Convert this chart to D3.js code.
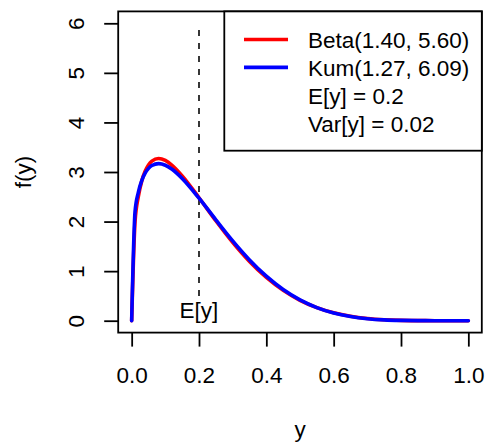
<!DOCTYPE html>
<html>
<head>
<meta charset="utf-8">
<script src="https://cdn.jsdelivr.net/npm/d3@7"></script>
<style>
  html, body { margin: 0; padding: 0; background: #ffffff; }
  svg { display: block; font-family: "Liberation Sans", Arial, Helvetica, sans-serif; }
</style>
</head>
<body>
<svg id="chart" width="489" height="443"></svg>
<script>
// Evaluation points on y and the two densities at those points
const yGrid = [0, 0.01, 0.02, 0.03, 0.04, 0.05, 0.06, 0.08, 0.10, 0.12, 0.15, 0.20, 0.25,
  0.30, 0.35, 0.40, 0.45, 0.50, 0.55, 0.60, 0.65, 0.70, 0.75, 0.80, 0.85, 0.90, 0.95, 1.00];
const betaDensity = [0, 1.995, 2.512, 2.819, 3.015, 3.142, 3.219, 3.271, 3.233, 3.136, 2.923,
  2.481, 2.016, 1.579, 1.194, 0.872, 0.612, 0.412, 0.264, 0.159, 0.089, 0.045, 0.020, 0.007,
  0.002, 0.0003, 0.0000, 0];
const kumDensity = [0, 2.198, 2.596, 2.827, 2.976, 3.072, 3.130, 3.169, 3.136, 3.054, 2.869,
  2.472, 2.036, 1.611, 1.227, 0.898, 0.629, 0.420, 0.265, 0.156, 0.085, 0.041, 0.017, 0.006,
  0.0014, 0.0002, 0.0000, 0];

const legendLabels = ["Beta(1.40, 5.60)", "Kum(1.27, 6.09)", "E[y] = 0.2", "Var[y] = 0.02"];
const seriesColors = ["#ff0000", "#0000ff"];
const xTicks = [0, 0.2, 0.4, 0.6, 0.8, 1.0];
const yTicks = [0, 1, 2, 3, 4, 5, 6];
const meanY = 0.2;

const svg = d3.select("#chart");
const fontSize = 22.5;
const plotLeft = 118.2, plotRight = 481.8, plotTop = 11.4, plotBottom = 332.6;

// R-style 4% padding on both axes
const x = d3.scaleLinear().domain([-0.04, 1.04]).range([plotLeft, plotRight]);
const y = d3.scaleLinear().domain([-0.24, 6.24]).range([plotBottom, plotTop]);

const ink = "#000000";

// Mean marker: dashed vertical line and its label
svg.append("line")
  .attr("x1", x(meanY)).attr("x2", x(meanY))
  .attr("y1", y(0.5)).attr("y2", y(6))
  .attr("stroke", "#222").attr("stroke-width", 1.8)
  .attr("stroke-dasharray", "6,7");

svg.append("text")
  .attr("x", x(meanY)).attr("y", y(0.2) + 7.5)
  .attr("text-anchor", "middle")
  .attr("font-size", fontSize).attr("fill", ink)
  .text("E[y]");

// Density curves
const series = [betaDensity, kumDensity];
const line = d3.line()
  .x((d, i) => x(yGrid[i]))
  .y(d => y(d))
  .curve(d3.curveMonotoneX);

series.forEach((vals, k) => {
  svg.append("path")
    .datum(vals)
    .attr("d", line)
    .attr("fill", "none")
    .attr("stroke", seriesColors[k])
    .attr("stroke-width", 3.6)
    .attr("stroke-linejoin", "round")
    .attr("stroke-linecap", "round");
});

// Axes
const xAxis = d3.axisBottom(x).tickValues(xTicks).tickFormat(d3.format(".1f"))
  .tickSize(14).tickPadding(6);
const gx = svg.append("g").attr("transform", `translate(0,${plotBottom})`).call(xAxis);
gx.select(".domain").remove();
gx.selectAll(".tick line").attr("stroke", ink).attr("stroke-width", 1.8);
gx.selectAll(".tick text")
  .attr("font-size", fontSize).attr("font-family", null).attr("fill", ink)
  .attr("dy", null).attr("y", 50.5);

const yAxis = d3.axisLeft(y).tickValues(yTicks).tickFormat(d3.format("d")).tickSize(14);
const gy = svg.append("g").attr("transform", `translate(${plotLeft},0)`).call(yAxis);
gy.select(".domain").remove();
gy.selectAll(".tick line").attr("stroke", ink).attr("stroke-width", 1.8);
gy.selectAll(".tick text")
  .attr("font-size", fontSize).attr("font-family", null).attr("fill", ink)
  .attr("x", null).attr("dy", null)
  .attr("text-anchor", "middle")
  .attr("transform", "translate(-34.5,0) rotate(-90)");

// Plot frame
svg.append("rect")
  .attr("x", plotLeft).attr("y", plotTop)
  .attr("width", plotRight - plotLeft).attr("height", plotBottom - plotTop)
  .attr("fill", "none").attr("stroke", ink).attr("stroke-width", 1.8);

// Axis titles
svg.append("text")
  .attr("x", (plotLeft + plotRight) / 2).attr("y", 437)
  .attr("text-anchor", "middle").attr("font-size", fontSize).attr("fill", ink)
  .text("y");

svg.append("text")
  .attr("transform", `translate(31,${(plotTop + plotBottom) / 2}) rotate(-90)`)
  .attr("text-anchor", "middle").attr("font-size", fontSize).attr("fill", ink)
  .text("f(y)");

// Legend
const legendBox = { x0: 224.3, y0: plotTop, x1: plotRight, y1: 150.7 };
const rowStep = 27.9, firstBaseline = 48.3;
svg.append("rect")
  .attr("x", legendBox.x0).attr("y", legendBox.y0)
  .attr("width", legendBox.x1 - legendBox.x0)
  .attr("height", legendBox.y1 - legendBox.y0)
  .attr("fill", "#ffffff").attr("stroke", ink).attr("stroke-width", 1.8);

const rows = svg.append("g").selectAll("g")
  .data(legendLabels).join("g")
  .attr("transform", (d, i) => `translate(0,${firstBaseline + i * rowStep})`);

rows.filter((d, i) => i < seriesColors.length)
  .append("line")
  .attr("x1", 244).attr("x2", 288)
  .attr("y1", -8.8).attr("y2", -8.8)
  .attr("stroke", (d, i) => seriesColors[i])
  .attr("stroke-width", 3.6);

rows.append("text")
  .attr("x", 308).attr("y", 0)
  .attr("font-size", fontSize).attr("fill", ink)
  .text(d => d);
</script>
</body>
</html>
